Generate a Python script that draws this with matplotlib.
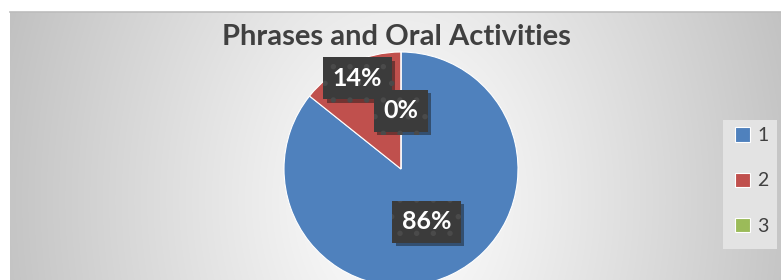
import numpy as np
import matplotlib
matplotlib.use("Agg")
import matplotlib.pyplot as plt
import matplotlib.patheffects as pe
from matplotlib.patches import Rectangle

title = "Phrases and Oral Activities"
categories = ["1", "2", "3"]
values = [6, 1, 0]
colors = ["#4F81BD", "#C0504D", "#9BBB59"]
label_dist = [0.5, 0.86, 0.5]

W, H = 781, 280
fig = plt.figure(figsize=(W / 100, H / 100), dpi=100)
fig.patch.set_facecolor("white")

# background chart area with radial gradient
bx0, btop = 10, 12
bg = fig.add_axes([bx0 / W, 0, (W - bx0) / W, (H - btop) / H])
xs = np.arange(bx0, W) + 0.5
ys = np.arange(btop, H) + 0.5
X, Y = np.meshgrid(xs, ys)
r = np.sqrt(((X - 400) / 390) ** 2 + ((Y - 200) / 520) ** 2)
g = np.clip(255 - 58 * r ** 1.1, 180, 255) / 255
img = np.dstack([g, g, g])
bg.imshow(img, aspect="auto", extent=[0, 1, 0, 1], origin="upper")
bg.set_xlim(0, 1)
bg.set_ylim(0, 1)
bg.axis("off")
fig.add_artist(plt.Line2D([bx0 / W, 1], [(H - btop) / H] * 2, color="#bcbcbc", lw=1.2))

# pie
cx, cy, rad = 401, 169, 117
ax = fig.add_axes([(cx - rad) / W, (H - cy - rad) / H, 2 * rad / W, 2 * rad / H])
wedges, _ = ax.pie(values, colors=colors, startangle=90, counterclock=False,
                   wedgeprops=dict(linewidth=0.8, edgecolor="white"))
ax.set_xlim(-1, 1)
ax.set_ylim(-1, 1)
ax.set_aspect("equal")
ax.axis("off")

plt.rcParams["hatch.linewidth"] = 1.5
total = sum(values)
for w, v, d in zip(wedges, values, label_dist):
    ang = np.deg2rad((w.theta1 + w.theta2) / 2)
    x, y = d * np.cos(ang), d * np.sin(ang)
    t = ax.text(x, y, f"{round(100 * v / total)}%", ha="center", va="center",
                fontsize=18, fontweight="bold", color="white", family="Lato",
                bbox=dict(boxstyle="square,pad=0.38", facecolor="#3b3b3b",
                          edgecolor="#4a4a4a", linewidth=0, hatch="."), zorder=5)
    t.get_bbox_patch().set_path_effects([pe.SimplePatchShadow(offset=(2.5, -2.5), alpha=0.45), pe.Normal()])
    t.set_clip_on(False)

fig.text(396 / W, 1 - 37 / H, title, ha="center", va="center", fontsize=21,
         fontweight="bold", color="#404040", family="Lato")

# legend
fig.add_artist(Rectangle((723 / W, 1 - 249 / H), 54 / W, 129 / H,
                         transform=fig.transFigure, facecolor="#e3e3e3", edgecolor="none"))
leg = fig.legend(wedges, categories, loc="center left",
                 bbox_to_anchor=(735 / W, 1 - 181 / H), frameon=False,
                 borderpad=0, borderaxespad=0,
                 labelspacing=1.45, handlelength=0.75,
                 handleheight=0.75, handletextpad=0.4, labelcolor="#404040",
                 prop=dict(family="Lato", size=14))

fig.savefig("out.png", dpi=100)
